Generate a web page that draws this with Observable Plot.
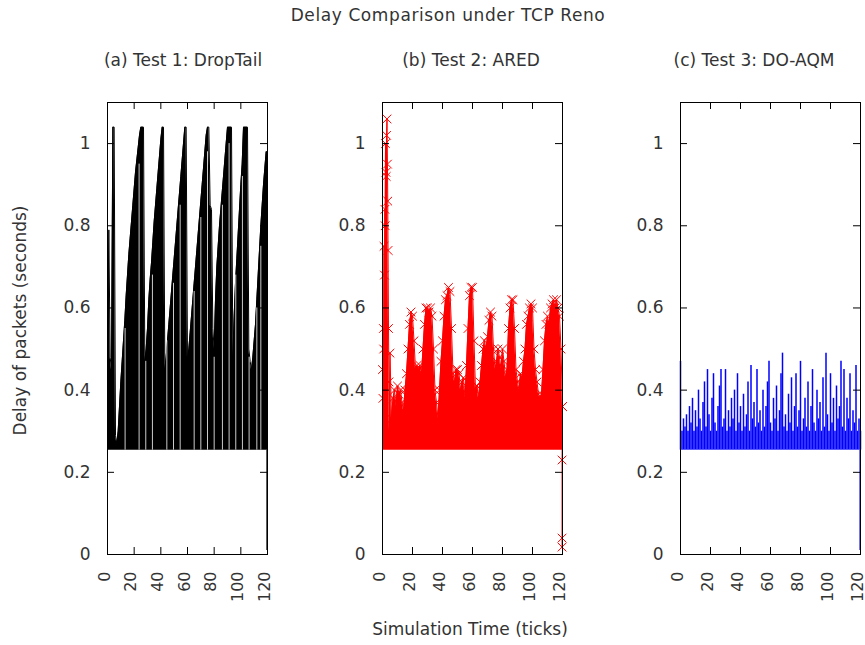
<!DOCTYPE html>
<html>
<head>
<meta charset="utf-8">
<script src="https://cdn.jsdelivr.net/npm/d3@7"></script>
<script src="https://cdn.jsdelivr.net/npm/@observablehq/plot@0.6"></script>
<style>
  html, body { margin: 0; padding: 0; background: #fff; overflow: hidden; }
  #chart { position: relative; width: 865px; height: 645px; font-family: "DejaVu Sans", sans-serif; color: #333; }
  .lbl { position: absolute; font-size: 17px; line-height: 17px; white-space: nowrap; transform: translateX(-50%); }
</style>
</head>
<body>
<div id="chart"></div>
<script>
// ---- tick definitions ----
const xTicks = [0, 20, 40, 60, 80, 100, 120];
const yTicks = [0, 0.2, 0.4, 0.6, 0.8, 1];
const yTickLabels = ["0", "0.2", "0.4", "0.6", "0.8", "1"];

// ---- texts ----
const mainTitle = "Delay Comparison under TCP Reno";
const panelTitles = ["(a) Test 1: DropTail", "(b) Test 2: ARED", "(c) Test 3: DO-AQM"];
const xLabel = "Simulation Time (ticks)";
const yLabel = "Delay of packets (seconds)";

// ---- data (seconds), one value per simulation tick 0..120 ----
const minDelay = 0.254;   // base delay of every packet
const dropTail = [
  0.47,0.79,0.48,0.45,1.04,1.04,0.29,0.27,0.30,0.36,
  0.42,0.47,0.52,0.57,0.63,0.68,0.73,0.77,0.81,0.85,
  0.89,0.93,0.96,0.99,1.02,1.04,1.04,1.04,0.47,0.50,
  0.55,0.62,0.67,0.71,0.76,0.81,0.85,0.89,0.93,0.97,
  1.01,1.04,1.04,0.45,0.48,0.52,0.56,0.60,0.64,0.68,
  0.72,0.76,0.80,0.84,0.88,0.92,0.96,1.00,1.04,1.04,
  0.47,0.50,0.54,0.58,0.62,0.66,0.70,0.74,0.78,0.82,
  0.86,0.90,0.94,0.98,1.02,1.04,1.04,0.85,0.84,0.55,
  0.50,0.62,0.70,0.75,0.80,0.84,0.88,0.92,0.96,1.00,
  1.04,1.04,1.04,1.04,0.48,0.58,0.66,0.72,0.78,0.84,
  0.90,0.95,1.04,1.04,1.04,1.04,0.50,0.47,0.45,0.48,
  0.52,0.56,0.62,0.68,0.74,0.80,0.85,0.90,0.94,0.98,
  0.98
];
// moments where DropTail delay briefly fell back to the base delay (t, highest gap value)
const dropTailGapT   = [13.2, 23.7, 28.7, 33.7, 44.5, 49.5, 54.5, 65, 70, 75, 80, 86.2, 91.2, 96.2, 101.2, 106.2, 112, 115];
const dropTailGapTop = [0.55, 0.95, 0.47, 0.68, 0.52, 0.66, 0.85, 0.64, 0.82, 0.98, 0.48, 0.85, 1.00, 0.68, 0.92, 0.48, 0.60, 0.75];
const dropTailEnd = {t: 119.6, v: 0.01};

const ared = [
  0.45,0.75,1.00,1.06,0.55,0.49,0.33,0.38,0.40,0.36,
  0.41,0.39,0.40,0.37,0.35,0.40,0.44,0.50,0.56,0.59,
  0.58,0.52,0.45,0.46,0.45,0.46,0.44,0.50,0.56,0.60,
  0.60,0.59,0.60,0.58,0.50,0.40,0.37,0.33,0.40,0.47,
  0.52,0.58,0.62,0.63,0.65,0.64,0.55,0.44,0.42,0.45,
  0.45,0.44,0.40,0.42,0.43,0.38,0.46,0.55,0.63,0.65,
  0.65,0.52,0.40,0.41,0.38,0.42,0.46,0.50,0.52,0.50,
  0.53,0.57,0.59,0.58,0.50,0.45,0.47,0.50,0.48,0.45,
  0.50,0.47,0.43,0.45,0.55,0.60,0.62,0.62,0.55,0.45,
  0.42,0.40,0.44,0.43,0.47,0.50,0.56,0.58,0.60,0.61,
  0.60,0.50,0.45,0.42,0.39,0.38,0.39,0.45,0.52,0.56,
  0.58,0.56,0.60,0.61,0.62,0.60,0.62,0.60,0.58,0.50,
  0.36
];
// extra samples inside the start-up burst (t < 5)
const aredStartup = [
  {t: 0.3, v: 0.38}, {t: 0.6, v: 0.55}, {t: 0.8, v: 0.50}, {t: 1.3, v: 0.68},
  {t: 1.6, v: 0.84}, {t: 1.8, v: 0.80}, {t: 2.3, v: 0.93}, {t: 2.5, v: 0.92},
  {t: 2.7, v: 1.02}, {t: 3.3, v: 0.95}, {t: 3.5, v: 0.86}, {t: 3.7, v: 0.74},
  {t: 4.3, v: 0.42}, {t: 4.6, v: 0.30}
];
const aredEndT = 119.7;
const aredEnd = [0.23, 0.04, 0.018];

const doAqm = [
  0.47,0.30,0.33,0.31,0.34,0.30,0.36,0.32,0.38,0.30,
  0.35,0.31,0.40,0.33,0.30,0.37,0.42,0.31,0.45,0.34,
  0.30,0.38,0.44,0.32,0.30,0.36,0.41,0.45,0.31,0.33,
  0.45,0.30,0.35,0.31,0.38,0.33,0.40,0.30,0.44,0.32,
  0.36,0.30,0.39,0.31,0.34,0.42,0.30,0.46,0.33,0.37,
  0.31,0.45,0.32,0.35,0.30,0.40,0.31,0.36,0.42,0.47,
  0.32,0.30,0.38,0.33,0.41,0.30,0.35,0.44,0.49,0.31,
  0.34,0.30,0.39,0.32,0.43,0.30,0.36,0.44,0.31,0.35,
  0.47,0.30,0.33,0.38,0.31,0.42,0.30,0.36,0.45,0.32,
  0.30,0.40,0.33,0.37,0.30,0.43,0.31,0.49,0.34,0.30,
  0.44,0.32,0.38,0.30,0.41,0.33,0.36,0.47,0.31,0.45,
  0.30,0.38,0.33,0.44,0.30,0.35,0.32,0.46,0.30,0.33,
  0.30
];
const doAqmEnd = {t: 119.7, v: 0.01};

const times = d3.range(0, 121); // sample times, one per tick

// ---- tables built from the arrays ----
const dropData = dropTail.map((v, i) => ({t: times[i], v}));
const dropGaps = dropTailGapT.map((t, i) => ({t, v: dropTailGapTop[i]}));
const aredData = ared.map((v, i) => ({t: times[i], v})).concat(aredStartup).sort((a, b) => a.t - b.t);
const aredTail = [{t: times[120], v: ared[120]}].concat(aredEnd.map(v => ({t: aredEndT, v})));
const doData = doAqm.map((v, i) => ({t: times[i], v}));

const chart = document.getElementById("chart");

function panel(frameLeft, frameW, dataMarks) {
  const ml = 60, mr = 5, mt = 102, mb = 91, H = 645;
  const frameH = H - mt - mb;
  const tick = 7;
  const svg = Plot.plot({
    width: ml + frameW + mr,
    height: H,
    marginLeft: ml, marginRight: mr, marginTop: mt, marginBottom: mb,
    x: {domain: [0, 120]},
    y: {domain: [0, 1.1]},
    style: {background: "transparent", overflow: "visible", color: "#000", fontFamily: "DejaVu Sans", fontSize: "17px"},
    marks: [
      ...dataMarks,
      Plot.frame({stroke: "#000", strokeWidth: 1}),
      Plot.tickX(xTicks, {x: d => d, insetTop: frameH - tick, stroke: "#000"}),
      Plot.tickX(xTicks, {x: d => d, insetBottom: frameH - tick, stroke: "#000"}),
      Plot.tickY(yTicks, {y: d => d, insetRight: frameW - tick, stroke: "#000"}),
      Plot.tickY(yTicks, {y: d => d, insetLeft: frameW - tick, stroke: "#000"}),
      Plot.axisY({ticks: yTicks, tickSize: 0, tickPadding: 17, label: null,
        tickFormat: d => yTickLabels[yTicks.indexOf(d)], fill: "#333"}),
      Plot.axisX({ticks: xTicks, tickSize: 0, tickPadding: 17, tickRotate: -90, label: null,
        fontSize: 16, fill: "#333", dx: -3})
    ]
  });
  svg.style.position = "absolute";
  svg.style.left = (frameLeft - ml) + "px";
  svg.style.top = "0px";
  chart.appendChild(svg);
}

// (a) DropTail
panel(107, 160, [
  Plot.areaY(dropData, {x: "t", y1: minDelay, y2: "v", fill: "#000"}),
  Plot.lineY(dropData, {x: "t", y: "v", stroke: "#000", strokeWidth: 1}),
  Plot.ruleX(dropGaps, {x: "t", y1: minDelay, y2: "v", stroke: "#fff", strokeWidth: 0.8}),
  Plot.ruleX([dropTailEnd], {x: "t", y1: minDelay, y2: "v", stroke: "#000", strokeWidth: 1.2})
]);

// (b) ARED
panel(382, 180, [
  Plot.areaY(aredData, {x: "t", y1: minDelay, y2: "v", fill: "#ff0000"}),
  Plot.lineY(aredData, {x: "t", y: "v", stroke: "#ff0000", strokeWidth: 1}),
  Plot.dot(aredData, {x: "t", y: "v", symbol: "times", r: 4, stroke: "#ff0000", strokeWidth: 1}),
  Plot.lineY(aredTail, {x: "t", y: "v", stroke: "#ff0000", strokeWidth: 1}),
  Plot.dot(aredTail, {x: "t", y: "v", symbol: "times", r: 4, stroke: "#ff0000", strokeWidth: 1})
]);

// (c) DO-AQM
panel(680, 180, [
  Plot.ruleX(doData, {x: "t", y1: minDelay, y2: "v", stroke: "#0000ff", strokeWidth: 1.5}),
  Plot.ruleX([doAqmEnd], {x: "t", y1: minDelay, y2: "v", stroke: "#0000ff", strokeWidth: 1.2})
]);

// ---- titles and axis labels ----
function label(text, x, top, extra) {
  const d = document.createElement("div");
  d.className = "lbl";
  d.textContent = text;
  d.style.left = x + "px";
  d.style.top = top + "px";
  if (extra) Object.assign(d.style, extra);
  chart.appendChild(d);
}
label(mainTitle, 448, 7, {letterSpacing: "0.6px"});
label(panelTitles[0], 183, 52);
label(panelTitles[1], 471, 52);
label(panelTitles[2], 754, 52);
label(xLabel, 470, 621);
label(yLabel, 20, 312, {transform: "translate(-50%, 0) rotate(-90deg)", transformOrigin: "50% 50%"});
</script>
</body>
</html>
